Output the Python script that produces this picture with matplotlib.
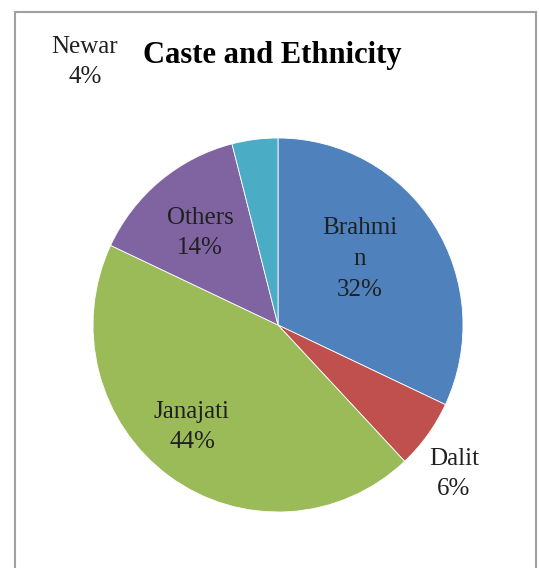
import matplotlib
matplotlib.use("Agg")
import matplotlib.pyplot as plt
from matplotlib.patches import Rectangle

categories = ["Brahmin", "Dalit", "Janajati", "Others", "Newar"]
values = [32, 6, 44, 14, 4]
label_texts = ["Brahmi\nn\n32%", "Dalit\n6%", "Janajati\n44%", "Others\n14%", "Newar\n4%"]
colors = ["#4F81BD", "#C0504D", "#9BBB59", "#8064A2", "#4BACC6"]

W, H = 539, 568
fig = plt.figure(figsize=(W / 100, H / 100), dpi=100)
fig.patch.set_facecolor("white")

# outer border
fig.patches.append(Rectangle((15 / W, -0.01), (536 - 15) / W, (H - 12) / H + 0.01,
                             transform=fig.transFigure, fill=False,
                             edgecolor="#a0a0a0", linewidth=1.5))

ax = fig.add_axes([93 / W, (H - 512) / H, 370 / W, 374 / H])
ax.pie(values, colors=colors, startangle=90, counterclock=False,
       wedgeprops=dict(edgecolor="white", linewidth=0.6))
ax.set_aspect("auto")
ax.set_xlim(-1, 1)
ax.set_ylim(-1, 1)
ax.axis("off")

serif = ["Liberation Serif", "DejaVu Serif"]
label_pos = [(360, 259), (454, 474), (192, 427), (200, 233), (85, 62)]
for txt, (px, py) in zip(label_texts, label_pos):
    fig.text(px / W, 1 - py / H, txt, ha="center", va="center",
             fontsize=18, family=serif, color="#202020", linespacing=1.5)

fig.text(272 / W, 1 - 56 / H, "Caste and Ethnicity", ha="center", va="center",
         fontsize=22, fontweight="bold", family=serif, color="black")

fig.savefig("out.png", dpi=100)
